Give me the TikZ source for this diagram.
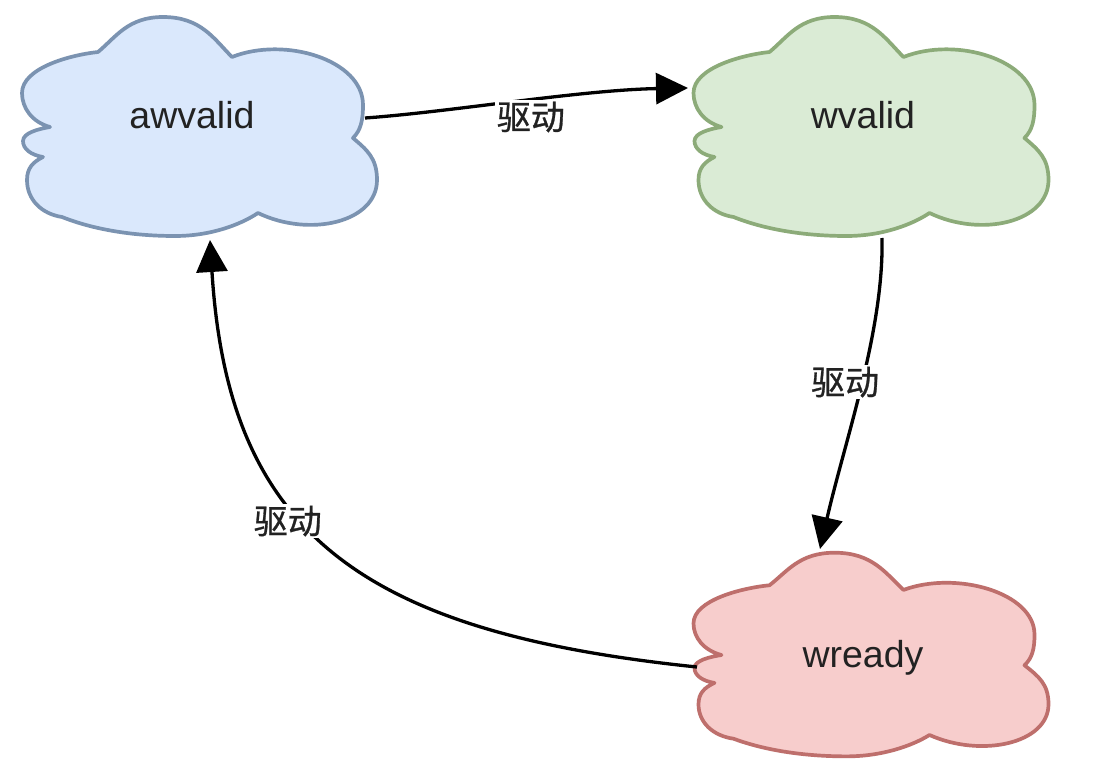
\documentclass[tikz,border=0pt]{standalone}
\usepackage{fontspec}
\setmainfont{Liberation Sans}
\newfontfamily\cjk[FakeBold=0.8]{Noto Sans CJK SC}
\usetikzlibrary{arrows.meta,calc}
\definecolor{blueF}{HTML}{DAE8FC}
\definecolor{blueS}{HTML}{7B93B1}
\definecolor{greenF}{HTML}{DAEBD5}
\definecolor{greenS}{HTML}{8CAB79}
\definecolor{redF}{HTML}{F7CDCC}
\definecolor{redS}{HTML}{BE6F6C}
\definecolor{txt}{HTML}{222222}
\tikzset{
  pics/cloud/.style 2 args={code={
    \path[fill=#1,draw=#2,line width=3.7pt,line join=round]
      (-102,-75)
      .. controls (-84,-90) and (-72,-110) .. (-37,-110)
      .. controls (1,-110) and (14,-88) .. (32,-70)
      .. controls (85,-91) and (163,-67) .. (163,-22)
      .. controls (163,-7) and (161,3) .. (153,11)
      .. controls (167,23) and (177,31) .. (177,53)
      .. controls (177,95) and (110,111) .. (58,86)
      .. controls (40,98) and (10,109) .. (-25,109)
      .. controls (-75,109) and (-113,100) .. (-138,90)
      .. controls (-158,87) and (-173,73) .. (-173,53)
      .. controls (-173,41) and (-167,35) .. (-157,30)
      .. controls (-169,28) and (-177,22) .. (-177,14)
      .. controls (-177,6) and (-162,2) .. (-150,0)
      .. controls (-168,-5) and (-178,-19) .. (-178,-34)
      .. controls (-178,-59) and (-130,-72) .. (-102,-75) -- cycle;
  }},
  ctext/.style={anchor=base,text=txt,font=\fontsize{37.5}{40}\selectfont,inner sep=0pt},
  lbl/.style={fill=white,text=txt,font=\cjk\fontsize{34}{38}\selectfont,inner sep=2pt},
  edge/.style={line width=3.3pt,black,-{Triangle[length=32pt,width=31pt]}},
}
\begin{document}
\begin{tikzpicture}[x=1pt,y=-1pt]
\useasboundingbox (0,0) rectangle (1114,771);
\fill[white] (0,0) rectangle (1114,771);
% clouds
\pic at (200,127) {cloud={blueF}{blueS}};
\pic at (871.5,127) {cloud={greenF}{greenS}};
\pic[yscale=0.93] at (871.5,655) {cloud={redF}{redS}};
% texts
\node[ctext] (aw) at (192,128) {awvalid};
\node[ctext] (wv) at (863,128) {wvalid};
\node[ctext] (wr) at (863,667) {wready};
% connectors
\draw[edge] ($(aw.base)+(173,-10)$)
  .. controls ($(aw.base)+(258,-16)$) and ($(wv.base)+(-283,-38)$) .. ($(wv.base)+(-175,-40)$)
  node[lbl,pos=0.5,xshift=13pt,yshift=-15.5pt] {驱动};
\draw[edge] ($(wv.base)+(19,110)$)
  .. controls ($(wv.base)+(21,202)$) and ($(wr.base)+(-18,-227)$) .. ($(wr.base)+(-43,-118)$)
  node[lbl,pos=0.5,xshift=-16pt,yshift=5pt] {驱动};
\draw[edge] ($(wr.base)+(-166,0)$)
  .. controls ($(wr.base)+(-506,-35)$) and ($(aw.base)+(36,402)$) .. ($(aw.base)+(18,112)$)
  node[lbl,pos=0.5,xshift=-45pt,yshift=28pt] {驱动};
\end{tikzpicture}
\end{document}
